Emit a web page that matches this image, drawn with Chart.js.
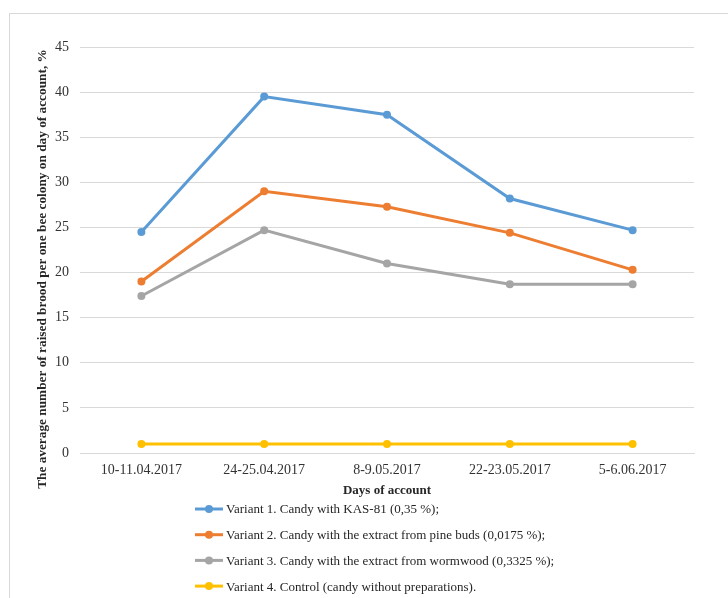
<!DOCTYPE html>
<html>
<head>
<meta charset="utf-8">
<script src="https://cdn.jsdelivr.net/npm/chart.js@4.4.1/dist/chart.umd.min.js"></script>
<style>
body{margin:0;background:#fff;}
#wrap{width:728px;height:598px;}
</style>
</head>
<body>
<div id="wrap"><canvas id="lineChart" width="728" height="598"></canvas></div>
<script>
const days = ["10-11.04.2017","24-25.04.2017","8-9.05.2017","22-23.05.2017","5-6.06.2017"];

const variant1 = [24.5, 39.5, 37.5, 28.2, 24.7];
const variant2 = [19.0, 29.0, 27.3, 24.4, 20.3];
const variant3 = [17.4, 24.7, 21.0, 18.7, 18.7];
const variant4 = [1, 1, 1, 1, 1];

const seriesNames = [
"Variant 1. Candy with KAS-81 (0,35 %);",
"Variant 2. Candy with the extract from pine buds (0,0175 %);",
"Variant 3. Candy with the extract from wormwood (0,3325 %);",
"Variant 4. Control (candy without preparations)."
];
const colors = ["#5B9BD5","#ED7D31","#A5A5A5","#FFC000"];

const yTitle = "The average number of raised brood per one bee colony on day of account, %";
const xTitle = "Days of account";

const serif = "'Liberation Serif','Times New Roman',serif";

/* frame round the chart */
const framePlugin = {
id:"frame",
beforeDraw(chart){
let ctx = chart.ctx;
ctx.save();
ctx.strokeStyle = "#d9d9d9";
ctx.lineWidth = 1;
ctx.strokeRect(9.5,13.5,800,700);
ctx.restore();
}
};

/* y title sits lower than the axis middle, like in the original */
const yTitlePlugin = {
id:"yTitle",
afterDraw(chart){
let ctx = chart.ctx;
ctx.save();
ctx.translate(43,269);
ctx.rotate(-Math.PI/2);
ctx.font = "bold 13.3px " + serif;
ctx.fillStyle = "#262626";
ctx.textAlign = "center";
ctx.textBaseline = "middle";
ctx.fillText(yTitle,0,0);
ctx.restore();
}
};

/* legend as one column under the axis */
const columnLegend = {
id:"columnLegend",
afterDraw(chart){
let ctx = chart.ctx;
let top = chart.scales.x.bottom + 11;
ctx.save();
ctx.font = "13px " + serif;
ctx.textBaseline = "middle";
ctx.textAlign = "left";
chart.data.datasets.forEach((ds,i)=>{
let y = top + i*25.7;
ctx.strokeStyle = ds.borderColor;
ctx.lineWidth = 3;
ctx.beginPath();
ctx.moveTo(195,y);
ctx.lineTo(223,y);
ctx.stroke();
ctx.fillStyle = ds.borderColor;
ctx.beginPath();
ctx.arc(209,y,4,0,Math.PI*2);
ctx.fill();
ctx.fillStyle = "#262626";
ctx.fillText(ds.label,226,y+1);
});
ctx.restore();
}
};

const seriesData = [variant1,variant2,variant3,variant4];

new Chart(document.getElementById("lineChart"),{
type:"line",
data:{
labels:days,
datasets:seriesData.map((vals,i)=>({
label:seriesNames[i],
data:vals,
borderColor:colors[i],
backgroundColor:colors[i],
borderWidth:3,
pointRadius:4,
pointHoverRadius:4,
pointBorderWidth:0,
tension:0
}))
},
options:{
responsive:false,
animation:false,
layout:{padding:{left:0,top:47,right:34,bottom:100}},
plugins:{
legend:{display:false},
tooltip:{enabled:false}
},
scales:{
x:{
offset:true,
grid:{display:false,drawTicks:false},
border:{display:true,color:"#d9d9d9"},
ticks:{color:"#333333",padding:9,maxRotation:0,font:{family:serif,size:14}},
title:{display:true,text:xTitle,color:"#262626",padding:{top:0,bottom:0},font:{family:serif,size:13,weight:"bold"}},
afterFit(scale){ scale.height = 45; }
},
y:{
min:0,
max:45,
ticks:{stepSize:5,color:"#333333",padding:11,font:{family:serif,size:14}},
grid:{color:"#d9d9d9",drawTicks:false},
border:{display:false},
afterFit(scale){ scale.width = 80; }
}
}
},
plugins:[framePlugin,yTitlePlugin,columnLegend]
});
</script>
</body>
</html>
